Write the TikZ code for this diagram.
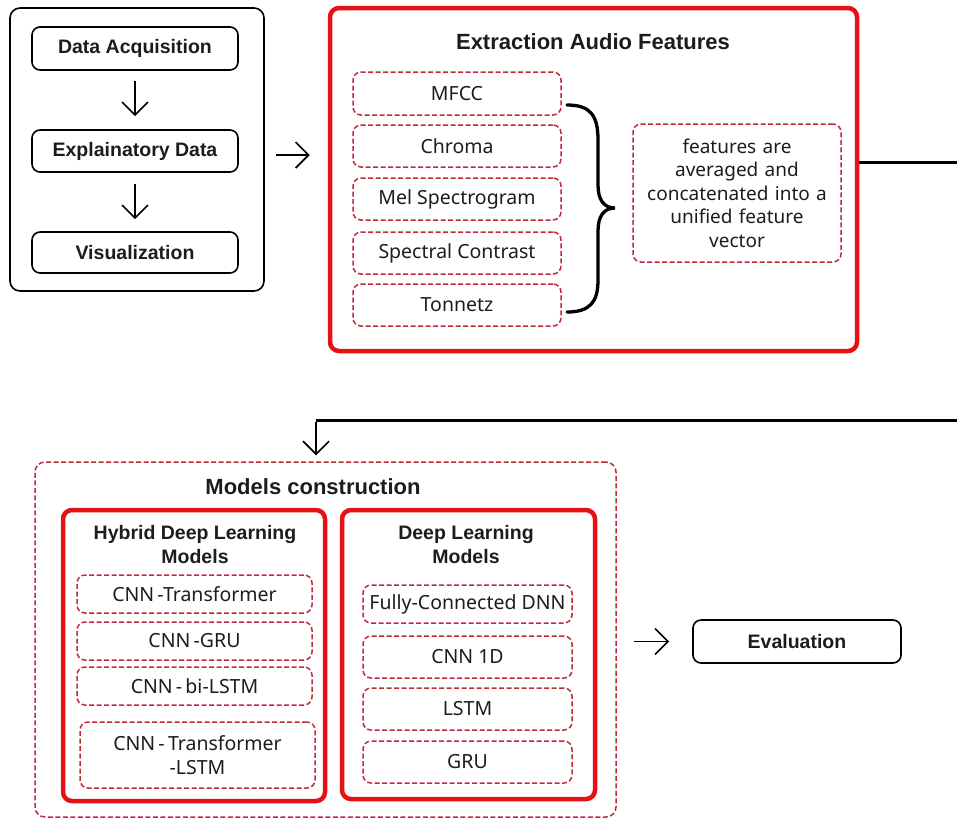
\documentclass[tikz,border=0pt]{standalone}
\usepackage{fontspec}
\setmainfont{Noto Sans}
\newfontfamily\headfont{Liberation Sans}
\usetikzlibrary{arrows.meta}
\definecolor{boxred}{RGB}{228,18,20}
\definecolor{dashred}{RGB}{192,42,58}
\definecolor{ink}{RGB}{28,28,28}
\tikzset{
  blackbox/.style={draw=black, line width=1.6pt, rounded corners=8pt, inner sep=0pt,
    text=ink, font=\fontsize{19.5}{22}\headfont\bfseries, align=center},
  outerbox/.style={draw=black, line width=1.6pt, rounded corners=10pt, inner sep=0pt},
  thickred/.style={draw=boxred, line width=4.5pt, rounded corners=9pt, inner sep=0pt},
  dashbox/.style={draw=dashred, line width=1.5pt, dash pattern=on 5pt off 2.5pt,
    rounded corners=8pt, inner sep=0pt, text=ink,
    font=\fontsize{19.5}{24}\selectfont, align=center},
  boldtitle/.style={inner sep=0pt, text=ink, align=center,
    font=\fontsize{19.5}{24}\headfont\bfseries},
  bigtitle/.style={boldtitle, font=\fontsize{22}{26}\headfont\bfseries},
  arr/.style={draw=black, line width=1.6pt, -{Straight Barb[length=13pt,width=26pt,line width=1.6pt]}},
  flow/.style={draw=black, line width=3pt},
  bracepen/.style={draw=black, line width=3.3pt, line cap=round},
}
\begin{document}
\begin{tikzpicture}[x=1pt, y=-1pt]
\useasboundingbox (0,0) rectangle (957,820);
\clip (0,0) rectangle (957,820);

% --- data preparation block ---
\node[outerbox, minimum width=254pt, minimum height=283pt] (prep) at (137,149.5) {};
\node[blackbox, minimum width=206pt, minimum height=43pt] (acq) at (135,48.5) {Data Acquisition};
\node[blackbox, minimum width=206pt, minimum height=42pt] (eda) at (135,151) {Explainatory Data};
\node[blackbox, minimum width=206pt, minimum height=41pt] (vis) at (135,252.5) {Visualization};
\draw[arr, shorten <=10pt, shorten >=13pt] (acq) -- (eda);
\draw[arr, shorten <=11pt, shorten >=12pt] (eda) -- (vis);

% --- feature extraction block ---
\node[thickred, minimum width=527pt, minimum height=343pt] (extr) at (593.5,179.5) {};
\node[bigtitle] (extrtitle) at (593,42) {Extraction Audio Features};
\node[dashbox, minimum width=208pt, minimum height=43pt] (mfcc) at (457,93.5) {MFCC};
\node[dashbox, minimum width=208pt, minimum height=42pt] (chroma) at (457,146) {Chroma};
\node[dashbox, minimum width=208pt, minimum height=42pt] (mel) at (457,199) {Mel Spectrogram};
\node[dashbox, minimum width=208pt, minimum height=42pt] (contrast) at (457,253) {Spectral Contrast};
\node[dashbox, minimum width=208pt, minimum height=42pt] (tonnetz) at (457,305) {Tonnetz};
\node[dashbox, minimum width=208pt, minimum height=138pt, text width=200pt,
      font=\fontsize{19}{23.5}\selectfont] (unify) at (737,193)
  {features are\\averaged and\\concatenated into a\\unified feature\\vector};

% curly brace gathering the five features
\draw[bracepen] (567,105) .. controls (590,105) and (598,115) .. (598,140)
  -- (598,185) .. controls (598,200) and (604,208) .. (615,208)
  .. controls (604,208) and (598,216) .. (598,231)
  -- (598,280) .. controls (598,302) and (590,312) .. (567,312);

\draw[arr, shorten <=11pt, shorten >=18pt] ([yshift=-5.5pt]prep.east) -- ([yshift=-5.5pt]prep.east -| extr.west);

% --- model construction block ---
\node[dashbox, minimum width=581pt, minimum height=355pt, rounded corners=10pt] (models) at (325.5,639.5) {};
\node[bigtitle] (modtitle) at (313,487) {Models construction};

\node[thickred, minimum width=262pt, minimum height=291pt] (hybrid) at (194,655.5) {};
\node[boldtitle] (hybtitle) at (195,545) {Hybrid Deep Learning\\Models};
\node[dashbox, minimum width=235pt, minimum height=38pt] (h1) at (194.5,594) {CNN\,-Transformer};
\node[dashbox, minimum width=235pt, minimum height=38pt] (h2) at (194.5,641) {CNN\,-GRU};
\node[dashbox, minimum width=235pt, minimum height=38pt] (h3) at (194.5,686) {CNN\,-\,bi-LSTM};
\node[dashbox, minimum width=235pt, minimum height=66pt] (h4) at (197.5,755) {CNN\,-\,Transformer\\-LSTM};

\node[thickred, minimum width=253pt, minimum height=289pt] (deep) at (468.5,654.5) {};
\node[boldtitle] (deeptitle) at (466,545) {Deep Learning\\Models};
\node[dashbox, minimum width=209pt, minimum height=38pt] (d1) at (467.5,604) {Fully-Connected DNN};
\node[dashbox, minimum width=209pt, minimum height=42pt] (d2) at (467.5,657) {CNN 1D};
\node[dashbox, minimum width=209pt, minimum height=42pt] (d3) at (467.5,709) {LSTM};
\node[dashbox, minimum width=209pt, minimum height=42pt] (d4) at (467.5,762) {GRU};

% --- evaluation ---
\node[blackbox, minimum width=208pt, minimum height=43pt] (eval) at (797,641.5) {Evaluation};
\draw[arr, shorten <=17pt, shorten >=23pt] (eval.west -| models.east) -- (eval.west);

% --- link from features to models (runs past the right edge) ---
\coordinate (turn) at (316,420);
\draw[flow] ([yshift=17.5pt]extr.east) -- (968,162) -- (968,420) -- (turn);
\draw[arr, shorten >=6pt] ([yshift=-1.5pt]turn) -- (turn |- models.north);
\end{tikzpicture}
\end{document}
